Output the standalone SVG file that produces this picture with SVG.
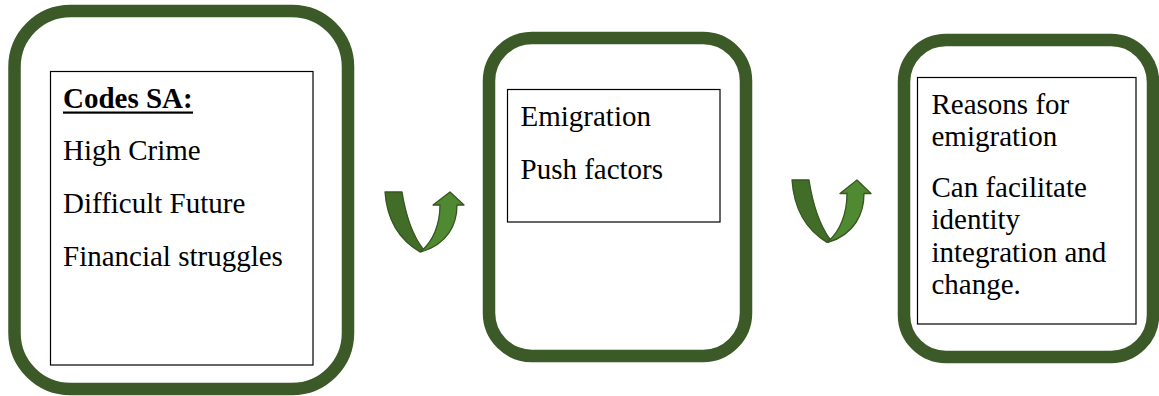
<svg xmlns="http://www.w3.org/2000/svg" width="1159" height="396" viewBox="0 0 1159 396">
  <style>
    .frame { fill: #ffffff; stroke: #3b5a27; stroke-width: 12.5; }
    .card { fill: #ffffff; stroke: #000000; stroke-width: 1.2; }
    .txt { font-family: "Liberation Serif", "Times New Roman", serif; font-size: 29px; fill: #000000; }
    .head { font-weight: bold; }
    .arm-down { fill: #416d29; stroke: #36561f; stroke-width: 1.3; stroke-linejoin: round; }
    .arm-up { fill: #4f8a33; stroke: #36561f; stroke-width: 1.3; stroke-linejoin: round; }
  </style>
  <defs>
    <!-- U-turn arrow: dark descending arm, lighter rising arm with head -->
    <g id="uturn">
      <path class="arm-down" d="M0,0 L17,0 C21,25 29,45 38,57 L35,60 C13,47 2,28 0,0 Z"/>
      <path class="arm-up" d="M36,59 C48,50 55,32 55,13 L48,13 L65,0 L79,13 L72,13 C72,32 63,52 36,60 Z"/>
    </g>
  </defs>

  <rect width="1159" height="396" fill="#ffffff"/>

  <g id="node-codes">
    <rect class="frame" x="14.5" y="11" width="333.5" height="378" rx="56" ry="56"/>
    <rect class="card" x="50.5" y="71.5" width="262.5" height="293.5"/>
    <text class="txt head" x="63" y="107.5">Codes SA:</text>
    <rect x="63" y="111.5" width="130" height="2.2" fill="#000000"/>
    <text class="txt" x="63" y="160">High Crime</text>
    <text class="txt" x="63" y="212.5">Difficult Future</text>
    <text class="txt" x="63" y="265.5">Financial struggles</text>
  </g>

  <g id="node-emigration">
    <rect class="frame" x="489" y="38" width="257" height="318" rx="43" ry="43"/>
    <rect class="card" x="507.5" y="89.5" width="212.5" height="132.5"/>
    <text class="txt" x="520.5" y="125.5">Emigration</text>
    <text class="txt" x="520.5" y="178.5">Push factors</text>
  </g>

  <g id="node-reasons">
    <rect class="frame" x="904" y="40" width="249" height="317" rx="42" ry="42"/>
    <rect class="card" x="917.5" y="77.5" width="218.5" height="246.5"/>
    <text class="txt" x="931.5" y="113.5">Reasons for</text>
    <text class="txt" x="931.5" y="145.5">emigration</text>
    <text class="txt" x="931.5" y="197">Can facilitate</text>
    <text class="txt" x="931.5" y="229">identity</text>
    <text class="txt" x="931.5" y="262">integration and</text>
    <text class="txt" x="931.5" y="293.5">change.</text>
  </g>

  <g id="connectors">
    <use href="#uturn" transform="translate(385,192)"/>
    <use href="#uturn" transform="translate(792,180) scale(1,1.04)"/>
  </g>
</svg>
